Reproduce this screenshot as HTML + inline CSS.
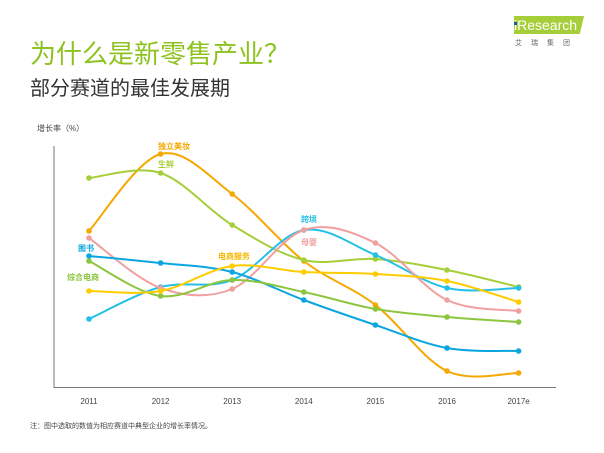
<!DOCTYPE html>
<html><head><meta charset="utf-8"><style>
body{margin:0;width:604px;height:453px;background:#fff;overflow:hidden;font-family:"Liberation Sans","Noto Sans CJK SC",sans-serif;position:relative}
.t{position:absolute;white-space:nowrap}
</style></head><body>
<div class="t" style="left:30px;top:34px;font-size:26px;color:#8DC21F">为什么是新零售产业？</div>
<div class="t" style="left:30px;top:72px;font-size:20px;color:#333">部分赛道的最佳发展期</div>
<div style="position:absolute;left:514px;top:16px;width:70px;height:18px;background:#A6CE39;clip-path:polygon(0 0,100% 0,94% 100%,0 100%)"></div>
<div class="t" style="left:514px;top:16px;font-size:14px;color:#fff;line-height:18px">iResearch</div>
<div style="position:absolute;left:514px;top:22px;width:3px;height:3px;background:#1a5aa8"></div>
<div class="t" style="left:515px;top:38px;font-size:7px;color:#666;letter-spacing:9px">艾瑞集团</div>
<div class="t" style="left:37px;top:123px;font-size:8px;color:#444">增长率（%）</div>
<div class="t" style="left:30px;top:421px;font-size:7px;color:#444">注：图中选取的数值为相应赛道中典型企业的增长率情况。</div>
<svg id="chart" width="604" height="453" style="position:absolute;left:0;top:0"></svg>
<script>
const years=["2011","2012","2013","2014","2015","2016","2017e"];
const names=["独立美妆","生鲜","跨境","母婴","图书","综合电商","电商服务"];
const beauty=[78,116.5,96.5,63,41,8,7];
const fresh=[104.5,107,81,63.5,64,58.5,50];
const crossBorder=[34,50,53.5,78.5,66,49.5,49.5];
const baby=[74.5,49.5,49,78.5,72,43.5,38];
const books=[65.5,62,57.5,43.5,31,19.5,18];
const general=[63,45.5,53.5,47.5,39,35,32.5];
const services=[48,48,60.5,57.5,56.5,53,42.5];
const series=[beauty,fresh,crossBorder,baby,books,general,services];
const colors=["#F5A800","#A6CE39","#25C0E8","#F0A0A0","#0BA6E0","#8CC63F","#FFCC00"];
const labelPos=[[158,149],[158,167],[301,222],[301,245],[78,251],[67,280],[218,259]];
const labelCol=["#F5A800","#A6CE39","#25C0E8","#F0A0A0","#0BA6E0","#8CC63F","#F5B800"];
const svg=document.getElementById('chart');
const NS="http://www.w3.org/2000/svg";
const xs=i=>89+i*71.6;
const ys=v=>387-v*2;
function mk(t,a){const e=document.createElementNS(NS,t);for(const k in a)e.setAttribute(k,a[k]);svg.appendChild(e);return e;}
let ax=mk('line',{x1:54,y1:146,x2:54,y2:388,stroke:'#777','stroke-width':1});

let bx=mk('line',{x1:54,y1:387.5,x2:556,y2:387.5,stroke:'#777','stroke-width':1});

years.forEach((y,i)=>{const t=mk('text',{x:xs(i),y:404,'font-size':8,fill:'#444','text-anchor':'middle'});t.textContent=y;
});
series.forEach((s,k)=>{
 const p=s.map((v,i)=>[xs(i),ys(v)]);
 let d=`M${p[0][0]},${p[0][1]}`;
 for(let i=0;i<p.length-1;i++){const p0=p[i-1]||p[i],p1=p[i],p2=p[i+1],p3=p[i+2]||p2;
  const c1=[p1[0]+(p2[0]-p0[0])/6,p1[1]+(p2[1]-p0[1])/6],c2=[p2[0]-(p3[0]-p1[0])/6,p2[1]-(p3[1]-p1[1])/6];
  d+=` C${c1[0]},${c1[1]} ${c2[0]},${c2[1]} ${p2[0]},${p2[1]}`;}
 const path=mk('path',{d:d,fill:'none',stroke:colors[k],'stroke-width':2});
 
 p.forEach(q=>{const c=mk('circle',{cx:q[0],cy:q[1],r:2.8,fill:colors[k]});
 });
 const t=mk('text',{x:labelPos[k][0],y:labelPos[k][1],'font-size':8,'font-weight':'bold',fill:labelCol[k]});t.textContent=names[k];
 
});
</script>
</body></html>
